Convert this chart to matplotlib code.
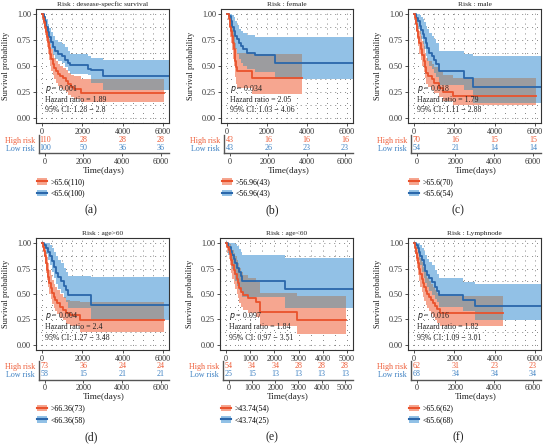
import matplotlib
matplotlib.use("Agg")
import matplotlib.pyplot as plt
import numpy as np
from matplotlib.patches import Patch
from matplotlib.lines import Line2D
from matplotlib.legend_handler import HandlerTuple
from matplotlib.ticker import MultipleLocator

plt.rcParams['font.family'] = ['Liberation Serif', 'DejaVu Serif']

# ---------------- data ----------------
# (a) disease-specific survival
a_high_t = [0, 50, 100, 150, 200, 250, 300, 350, 400, 450, 520, 600, 700, 800, 900, 1050, 1200, 1300, 1450, 1600, 1950]
a_high_surv = [1.0, 0.96, 0.92, 0.88, 0.83, 0.78, 0.73, 0.67, 0.62, 0.57, 0.52, 0.48, 0.45, 0.42, 0.40, 0.38, 0.36, 0.33, 0.30, 0.28, 0.24]
a_high_lower = [1.0, 0.91, 0.86, 0.80, 0.74, 0.68, 0.62, 0.56, 0.50, 0.45, 0.41, 0.37, 0.34, 0.31, 0.29, 0.27, 0.25, 0.22, 0.20, 0.18, 0.15]
a_high_upper = [1.0, 1.0, 0.97, 0.94, 0.90, 0.86, 0.81, 0.76, 0.71, 0.66, 0.62, 0.58, 0.55, 0.52, 0.50, 0.48, 0.46, 0.43, 0.41, 0.40, 0.37]
a_high_end = 6050
a_low_t = [0, 80, 150, 220, 280, 350, 450, 550, 650, 800, 1000, 1150, 1300, 1400, 2300, 2450, 3000]
a_low_surv = [1.0, 0.97, 0.93, 0.88, 0.83, 0.78, 0.73, 0.68, 0.64, 0.62, 0.60, 0.56, 0.53, 0.51, 0.47, 0.46, 0.40]
a_low_lower = [1.0, 0.94, 0.88, 0.82, 0.76, 0.71, 0.66, 0.61, 0.57, 0.55, 0.53, 0.49, 0.45, 0.42, 0.41, 0.335, 0.27]
a_low_upper = [1.0, 1.0, 0.98, 0.95, 0.91, 0.87, 0.83, 0.79, 0.75, 0.73, 0.71, 0.68, 0.64, 0.62, 0.60, 0.58, 0.56]
a_low_end = 6300
a_risk_times = [0, 2000, 4000, 6000]
a_risk_high = [110, 28, 28, 28]
a_risk_low = [100, 50, 36, 36]

# (b) female
b_high_t = [0, 90, 150, 220, 260, 300, 340, 380, 420, 470, 520, 1250]
b_high_surv = [1.0, 0.95, 0.88, 0.84, 0.79, 0.72, 0.66, 0.60, 0.55, 0.49, 0.45, 0.38]
b_high_lower = [1.0, 0.88, 0.78, 0.72, 0.65, 0.57, 0.50, 0.44, 0.39, 0.33, 0.29, 0.23]
b_high_upper = [1.0, 1.0, 0.98, 0.95, 0.91, 0.86, 0.81, 0.76, 0.72, 0.67, 0.63, 0.62]
b_high_end = 3750
b_low_t = [0, 100, 180, 260, 330, 400, 500, 600, 700, 800, 1000, 1400, 2400]
b_low_surv = [1.0, 0.98, 0.93, 0.88, 0.84, 0.79, 0.76, 0.72, 0.69, 0.66, 0.63, 0.61, 0.53]
b_low_lower = [1.0, 0.93, 0.85, 0.78, 0.72, 0.66, 0.62, 0.57, 0.53, 0.50, 0.47, 0.44, 0.37]
b_low_upper = [1.0, 1.0, 1.0, 0.99, 0.97, 0.93, 0.90, 0.86, 0.84, 0.82, 0.80, 0.78, 0.78]
b_low_end = 6300
b_risk_times = [0, 2000, 4000, 6000]
b_risk_high = [43, 16, 16, 16]
b_risk_low = [43, 26, 23, 23]

# (c) male
c_high_t = [0, 60, 120, 170, 220, 270, 330, 400, 470, 530, 580, 700, 900, 1000, 1250, 1450, 1950]
c_high_surv = [1.0, 0.96, 0.91, 0.84, 0.78, 0.72, 0.66, 0.61, 0.55, 0.49, 0.43, 0.40, 0.37, 0.34, 0.29, 0.25, 0.21]
c_high_lower = [1.0, 0.91, 0.84, 0.76, 0.69, 0.62, 0.56, 0.50, 0.44, 0.38, 0.33, 0.30, 0.27, 0.24, 0.20, 0.16, 0.12]
c_high_upper = [1.0, 1.0, 0.98, 0.94, 0.89, 0.84, 0.79, 0.74, 0.69, 0.63, 0.58, 0.55, 0.52, 0.49, 0.45, 0.41, 0.38]
c_high_end = 6050
c_low_t = [0, 120, 200, 280, 350, 420, 500, 580, 650, 750, 900, 1000, 1100, 1250, 2500, 2950]
c_low_surv = [1.0, 0.96, 0.93, 0.89, 0.85, 0.81, 0.77, 0.72, 0.67, 0.63, 0.60, 0.56, 0.52, 0.45, 0.38, 0.30]
c_low_lower = [1.0, 0.91, 0.86, 0.81, 0.76, 0.71, 0.66, 0.60, 0.55, 0.50, 0.47, 0.43, 0.39, 0.32, 0.27, 0.14]
c_low_upper = [1.0, 1.0, 1.0, 0.99, 0.97, 0.95, 0.92, 0.89, 0.86, 0.82, 0.79, 0.76, 0.72, 0.64, 0.62, 0.60]
c_low_end = 6300
c_risk_times = [0, 2000, 4000, 6000]
c_risk_high = [70, 16, 15, 15]
c_risk_low = [54, 21, 14, 14]

# (d) age>60
d_high_t = [0, 50, 100, 150, 200, 250, 300, 350, 420, 500, 580, 650, 750, 900, 1050, 1200, 1400, 1900]
d_high_surv = [1.0, 0.96, 0.92, 0.87, 0.80, 0.74, 0.67, 0.61, 0.56, 0.51, 0.47, 0.44, 0.41, 0.37, 0.34, 0.31, 0.29, 0.24]
d_high_lower = [1.0, 0.92, 0.86, 0.79, 0.71, 0.64, 0.57, 0.50, 0.45, 0.40, 0.36, 0.33, 0.30, 0.26, 0.24, 0.21, 0.19, 0.13]
d_high_upper = [1.0, 1.0, 0.99, 0.96, 0.91, 0.86, 0.80, 0.74, 0.69, 0.64, 0.60, 0.57, 0.54, 0.50, 0.47, 0.44, 0.43, 0.42]
d_high_end = 6050
d_low_t = [0, 100, 200, 300, 400, 500, 600, 700, 800, 950, 1100, 1200, 1300, 2450]
d_low_surv = [1.0, 0.98, 0.95, 0.91, 0.87, 0.82, 0.77, 0.71, 0.67, 0.63, 0.58, 0.54, 0.49, 0.39]
d_low_lower = [1.0, 0.94, 0.89, 0.83, 0.78, 0.72, 0.66, 0.60, 0.55, 0.51, 0.46, 0.42, 0.36, 0.24]
d_low_upper = [1.0, 1.0, 1.0, 1.0, 0.98, 0.95, 0.91, 0.87, 0.83, 0.80, 0.76, 0.72, 0.68, 0.67]
d_low_end = 6300
d_risk_times = [0, 2000, 4000, 6000]
d_risk_high = [73, 36, 24, 24]
d_risk_low = [58, 15, 21, 21]

# (e) age<60
e_high_t = [0, 60, 120, 180, 220, 260, 320, 380, 450, 500, 530, 600, 720, 900, 1250, 1420, 2950]
e_high_surv = [1.0, 0.96, 0.93, 0.89, 0.83, 0.78, 0.74, 0.70, 0.65, 0.61, 0.56, 0.52, 0.49, 0.46, 0.42, 0.32, 0.24]
e_high_lower = [1.0, 0.90, 0.84, 0.78, 0.71, 0.65, 0.60, 0.55, 0.50, 0.46, 0.41, 0.37, 0.34, 0.31, 0.27, 0.19, 0.11]
e_high_upper = [1.0, 1.0, 1.0, 0.99, 0.96, 0.93, 0.90, 0.87, 0.83, 0.80, 0.76, 0.72, 0.69, 0.66, 0.62, 0.51, 0.48]
e_high_end = 4950
e_low_t = [0, 100, 200, 260, 330, 380, 450, 520, 600, 650, 2450]
e_low_surv = [1.0, 0.96, 0.92, 0.88, 0.84, 0.80, 0.76, 0.72, 0.68, 0.63, 0.55]
e_low_lower = [1.0, 0.88, 0.81, 0.75, 0.69, 0.63, 0.58, 0.54, 0.51, 0.47, 0.36]
e_low_upper = [1.0, 1.0, 1.0, 1.0, 1.0, 0.99, 0.97, 0.94, 0.91, 0.88, 0.85]
e_low_end = 5250
e_risk_times = [0, 1000, 2000, 3000, 4000, 5000]
e_risk_high = [54, 34, 34, 28, 28, 28]
e_risk_low = [25, 15, 13, 13, 13, 13]

# (f) lymph node
f_high_t = [0, 50, 100, 150, 200, 260, 320, 380, 440, 500, 570, 650, 750, 850, 950, 1050, 1150, 1300]
f_high_surv = [1.0, 0.95, 0.90, 0.85, 0.80, 0.75, 0.70, 0.65, 0.61, 0.57, 0.53, 0.50, 0.47, 0.44, 0.41, 0.38, 0.35, 0.31]
f_high_lower = [1.0, 0.89, 0.82, 0.76, 0.69, 0.63, 0.57, 0.52, 0.47, 0.43, 0.39, 0.36, 0.33, 0.30, 0.27, 0.24, 0.22, 0.19]
f_high_upper = [1.0, 1.0, 0.99, 0.96, 0.93, 0.89, 0.85, 0.81, 0.77, 0.73, 0.69, 0.66, 0.63, 0.60, 0.57, 0.54, 0.51, 0.48]
f_high_end = 4400
f_low_t = [0, 100, 180, 250, 320, 400, 480, 560, 650, 750, 900, 1050, 1150, 1250, 2450, 3000]
f_low_surv = [1.0, 0.98, 0.95, 0.91, 0.87, 0.83, 0.78, 0.73, 0.69, 0.66, 0.62, 0.57, 0.53, 0.49, 0.44, 0.38]
f_low_lower = [1.0, 0.94, 0.89, 0.83, 0.78, 0.72, 0.66, 0.61, 0.57, 0.53, 0.49, 0.45, 0.42, 0.37, 0.33, 0.24]
f_low_upper = [1.0, 1.0, 1.0, 1.0, 0.98, 0.95, 0.92, 0.88, 0.84, 0.81, 0.78, 0.74, 0.70, 0.66, 0.62, 0.60]
f_low_end = 6300
f_risk_times = [0, 2000, 4000, 6000]
f_risk_high = [62, 31, 23, 23]
f_risk_low = [68, 34, 34, 34]

titles = ["Risk : desease-specfic survival", "Risk : female", "Risk : male",
          "Risk : age>60", "Risk : age<60", "Risk : Lymphnode"]
p_values = ["0.001", "0.034", "0.018", "0.004", "0.097", "0.016"]
hazard_ratios = ["1.89", "2.05", "1.79", "2.4", "1.84", "1.82"]
ci_texts = ["1.28 \u2212 2.8", "1.03 \u2212 4.06", "1.11 \u2212 2.88",
            "1.27 \u2212 3.48", "0.97 \u2212 3.51", "1.09 \u2212 3.01"]
high_labels = [">65.6(110)", ">56.96(43)", ">65.6(70)", ">66.36(73)", ">43.74(54)", ">65.6(62)"]
low_labels = ["<65.6(100)", "<56.96(43)", "<65.6(54)", "<66.36(58)", "<43.74(25)", "<65.6(68)"]
panel_letters = ["(a)", "(b)", "(c)", "(d)", "(e)", "(f)"]

RED = "#E9522C"
RED_FILL = "#F6A690"
BLUE = "#2A67AB"
BLUE_FILL = "#92C1E6"
GREY_FILL = "#9C9C9F"
RED_TXT = "#EE5B36"
BLUE_TXT = "#3D80C2"

W, H = 545, 444


def fbox(l, t, r, b):
    return [l / W, 1 - b / H, (r - l) / W, (b - t) / H]


def step_at(t, v, grid):
    idx = np.searchsorted(np.array(t), grid, side='right') - 1
    return np.array(v, dtype=float)[idx]


fig = plt.figure(figsize=(W / 100, H / 100), dpi=100)

panels = [
    (a_high_t, a_high_surv, a_high_lower, a_high_upper, a_high_end,
     a_low_t, a_low_surv, a_low_lower, a_low_upper, a_low_end, a_risk_times, a_risk_high, a_risk_low),
    (b_high_t, b_high_surv, b_high_lower, b_high_upper, b_high_end,
     b_low_t, b_low_surv, b_low_lower, b_low_upper, b_low_end, b_risk_times, b_risk_high, b_risk_low),
    (c_high_t, c_high_surv, c_high_lower, c_high_upper, c_high_end,
     c_low_t, c_low_surv, c_low_lower, c_low_upper, c_low_end, c_risk_times, c_risk_high, c_risk_low),
    (d_high_t, d_high_surv, d_high_lower, d_high_upper, d_high_end,
     d_low_t, d_low_surv, d_low_lower, d_low_upper, d_low_end, d_risk_times, d_risk_high, d_risk_low),
    (e_high_t, e_high_surv, e_high_lower, e_high_upper, e_high_end,
     e_low_t, e_low_surv, e_low_lower, e_low_upper, e_low_end, e_risk_times, e_risk_high, e_risk_low),
    (f_high_t, f_high_surv, f_high_lower, f_high_upper, f_high_end,
     f_low_t, f_low_surv, f_low_lower, f_low_upper, f_low_end, f_risk_times, f_risk_high, f_risk_low),
]

# pixel layout: columns (left, right) and rows
col_x = [(36, 169), (221, 353), (408, 541)]
col_x_e = (220, 353)
label_x = [91, 272, 458]
rows = [
    dict(top=9, bot=123, ttop=135, tbot=153.3, leg=178, lab=210.7),
    dict(top=238, bot=350, ttop=361, tbot=379.5, leg=404.5, lab=437),
]

for i, p in enumerate(panels):
    (ht, hs, hl, hu, he, lt, ls, ll, lu, le, rt, rh, rl) = p
    r = rows[i // 3]
    c = i % 3
    xl, xr = col_x[c] if i != 4 else col_x_e
    xmax = rt[-1]
    pad = xmax * 0.05

    ax = fig.add_axes(fbox(xl, r['top'], xr, r['bot']))
    ax.set_xlim(-pad, xmax + pad)
    ax.set_ylim(-0.05, 1.05)

    # confidence bands
    ax.fill_between(lt + [le], ll + [ll[-1]], lu + [lu[-1]], step='post',
                    color=BLUE_FILL, lw=0, zorder=1)
    ax.fill_between(ht + [he], hl + [hl[-1]], hu + [hu[-1]], step='post',
                    color=RED_FILL, lw=0, zorder=1.1)
    # overlap of the two bands in grey
    end = min(he, le)
    grid = np.array(sorted(set([x for x in ht + lt if x < end] + [end])), dtype=float)
    lo = np.maximum(step_at(ht, hl, grid), step_at(lt, ll, grid))
    up = np.minimum(step_at(ht, hu, grid), step_at(lt, lu, grid))
    up = np.where(up > lo, up, lo)
    ax.fill_between(grid, lo, up, step='post', color=GREY_FILL, lw=0, zorder=1.2)

    ax.step(lt + [le], ls + [ls[-1]], where='post', color=BLUE, lw=1.3, zorder=3)
    ax.step(ht + [he], hs + [hs[-1]], where='post', color=RED, lw=1.3, zorder=3)

    if i == 4:
        ax.set_xticks(rt)
    else:
        ax.set_xticks([0, 2000, 4000, 6000])
    ax.xaxis.set_minor_locator(MultipleLocator(500))
    ax.set_yticks([0, 0.25, 0.5, 0.75, 1.0])
    ax.set_yticklabels(["0.00", "0.25", "0.50", "0.75", "1.00"])
    ax.yaxis.set_minor_locator(MultipleLocator(0.125))
    ax.tick_params(which='minor', length=0)
    ax.tick_params(which='major', labelsize=5.9, length=2, width=0.6, pad=1.5, colors='#333333')
    ax.grid(True, which='both', color='#333333', lw=0.7, ls=(0, (0.6, 4.5)))
    ax.set_axisbelow(True)
    for s in ax.spines.values():
        s.set_color('#333333')
        s.set_linewidth(0.8)
    ax.set_ylabel("Survival probability", fontsize=6.0, color='#222222')
    ax.yaxis.set_label_coords(-26 / (xr - xl), 0.5)
    ax.set_title(titles[i], fontsize=5.3, pad=2.5, color='#222222')

    ax.text(0.07, 0.30, "$p$ = " + p_values[i], transform=ax.transAxes,
            fontsize=5.7, color='#222222', va='center')
    ax.text(0.07, 0.205, "Hazard ratio = " + hazard_ratios[i], transform=ax.transAxes,
            fontsize=5.7, color='#222222', va='center')
    ax.text(0.07, 0.11, "95% CI: " + ci_texts[i], transform=ax.transAxes,
            fontsize=5.7, color='#222222', va='center')

    # risk table (its own x scale, slightly narrower like the original)
    tx = fig.add_axes(fbox(xl + 3, r['ttop'], xr, r['tbot']))
    tx.set_xlim(-pad, xmax * 1.07)
    tx.set_ylim(-0.6, 1.6)
    for x, n in zip(rt, rh):
        tx.text(x, 1, str(n), color=RED_TXT, fontsize=5.8, ha='center', va='center')
    for x, n in zip(rt, rl):
        tx.text(x, 0, str(n), color=BLUE_TXT, fontsize=5.8, ha='center', va='center')
    tx.set_yticks([1, 0])
    tx.set_yticklabels(["High risk", "Low risk"], fontsize=5.8)
    tx.get_yticklabels()[0].set_color(RED_TXT)
    tx.get_yticklabels()[1].set_color(BLUE_TXT)
    tx.set_xticks(rt)
    tx.tick_params(axis='x', labelsize=5.9, length=2, width=0.6, pad=1.5, colors='#333333')
    tx.tick_params(axis='y', length=0, pad=3)
    for side in ['top', 'right']:
        tx.spines[side].set_visible(False)
    for side in ['left', 'bottom']:
        tx.spines[side].set_color('#555555')
        tx.spines[side].set_linewidth(1.0)
    tx.set_xlabel("Time(days)", fontsize=6.6, labelpad=0.5, color='#222222')

    # legend
    handles = [(Patch(facecolor=RED_FILL, edgecolor='none'), Line2D([], [], color=RED, lw=1.5)),
               (Patch(facecolor=BLUE_FILL, edgecolor='none'), Line2D([], [], color=BLUE, lw=1.5))]
    fig.legend(handles, [high_labels[i], low_labels[i]], loc='upper left',
               bbox_to_anchor=((xl + 1) / W, 1 - r['leg'] / H), frameon=False,
               fontsize=5.6, handlelength=1.3, handleheight=0.9, handletextpad=0.4,
               labelspacing=0.45, borderpad=0, borderaxespad=0,
               handler_map={tuple: HandlerTuple(ndivide=1)})

    fig.text(label_x[c] / W, 1 - r['lab'] / H, panel_letters[i], fontsize=8.5,
             ha='center', va='center', color='#222222')

fig.savefig("out.png", dpi=100)
